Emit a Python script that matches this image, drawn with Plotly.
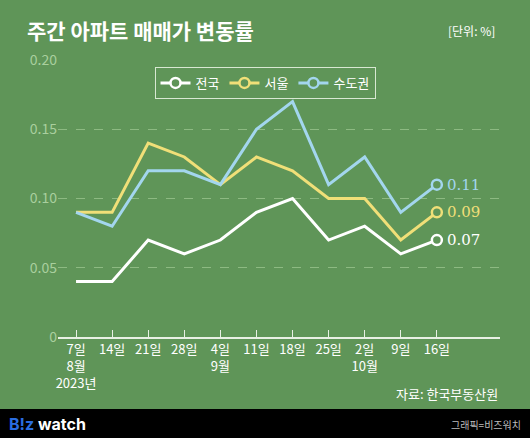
import plotly.graph_objects as go

weeks = ["7일<br>8월<br>2023년", "14일", "21일", "28일", "4일<br>9월", "11일", "18일", "25일", "2일<br>10월", "9일", "16일"]
national = [0.04, 0.04, 0.07, 0.06, 0.07, 0.09, 0.10, 0.07, 0.08, 0.06, 0.07]
seoul = [0.09, 0.09, 0.14, 0.13, 0.11, 0.13, 0.12, 0.10, 0.10, 0.07, 0.09]
capital = [0.09, 0.08, 0.12, 0.12, 0.11, 0.15, 0.17, 0.11, 0.13, 0.09, 0.11]
series_names = ["전국", "서울", "수도권"]
y_ticks = [0, 0.05, 0.10, 0.15, 0.20]
y_tick_text = ["0", "0.05", "0.10", "0.15", "0.20"]

W, H = 530, 438
L, R, T, B = 58, 30, 60, 101
PW, PH = W - L - R, H - T - B
BG = "#5f9558"
colors = ["#ffffff", "#f0df78", "#a3d6ee"]
FONT = "Noto Sans CJK KR"

def px(x):
    return (x - L) / PW

def py(y):
    return (H - B - y) / PH

xs = list(range(len(weeks)))
fig = go.Figure()
for name, vals, c in zip(series_names, [national, seoul, capital], colors):
    fig.add_trace(go.Scatter(x=xs, y=vals, mode="lines", line=dict(color=c, width=3),
                             showlegend=False, hoverinfo="skip"))
    fig.add_trace(go.Scatter(x=[xs[-1]], y=[vals[-1]], mode="markers",
                             marker=dict(symbol="circle", size=10, color=BG,
                                         line=dict(color=c, width=2.5)),
                             showlegend=False, hoverinfo="skip"))
    fig.add_trace(go.Scatter(x=[None], y=[None], mode="lines+markers", name=name,
                             line=dict(color=c, width=3),
                             marker=dict(symbol="circle", size=10, color=BG,
                                         line=dict(color=c, width=2.5))))
    fig.add_annotation(x=xs[-1], y=vals[-1], text=f"{vals[-1]:.2f}", showarrow=False,
                       xanchor="left", yanchor="middle", xshift=8,
                       font=dict(family="DejaVu Serif", size=15, color=c))

fig.update_xaxes(range=[-0.5, 11.75], tickvals=xs, ticktext=weeks, showgrid=False,
                 zeroline=False, showline=True, linecolor="#e8f0e4", linewidth=1.5,
                 ticks="inside", ticklen=7, tickcolor="#e8f0e4", tickwidth=1,
                 tickfont=dict(family=FONT, size=13, color="#ffffff"))
fig.update_yaxes(range=[0, 0.2], tickvals=y_ticks, ticktext=y_tick_text, showgrid=True,
                 gridcolor="#8dba82", griddash="dash", gridwidth=1, zeroline=False,
                 tickfont=dict(family=FONT, size=14, color="#a9cf9e"))

fig.add_annotation(xref="paper", yref="paper", x=px(25), y=py(30), text="<b>주간 아파트 매매가 변동률</b>",
                   showarrow=False, xanchor="left", yanchor="middle",
                   font=dict(family=FONT, size=21, color="#ffffff"))
fig.add_annotation(xref="paper", yref="paper", x=px(497), y=py(30), text="[단위: %]",
                   showarrow=False, xanchor="right", yanchor="middle",
                   font=dict(family=FONT, size=12, color="#ffffff"))
fig.add_annotation(xref="paper", yref="paper", x=px(500), y=py(393), text="자료: 한국부동산원",
                   showarrow=False, xanchor="right", yanchor="middle",
                   font=dict(family=FONT, size=13, color="#ffffff"))
fig.add_shape(type="rect", xref="paper", yref="paper", x0=px(0), x1=px(W), y0=py(409), y1=py(H + 2),
              fillcolor="#000000", line=dict(width=0), layer="above")
fig.add_annotation(xref="paper", yref="paper", x=px(7), y=py(424),
                   text="<b><span style='color:#2a6de0'>B!z</span> watch</b>",
                   showarrow=False, xanchor="left", yanchor="middle",
                   font=dict(family="Inter", size=16, color="#ffffff"))
fig.add_annotation(xref="paper", yref="paper", x=px(523), y=py(424), text="그래픽=비즈워치",
                   showarrow=False, xanchor="right", yanchor="middle",
                   font=dict(family=FONT, size=10, color="#bbbbbb"))

fig.update_layout(width=W, height=H, margin=dict(l=L, r=R, t=T, b=B),
                  paper_bgcolor=BG, plot_bgcolor=BG,
                  legend=dict(orientation="h", x=px(265), xanchor="center", y=py(67), yanchor="top",
                              bordercolor="#d8e8d2", borderwidth=1, bgcolor=BG,
                              font=dict(family=FONT, size=13, color="#ffffff"),
                              itemwidth=30))
fig.write_html("out.html", config={"displayModeBar": False, "staticPlot": True},
               post_script="document.body.style.margin='0';document.body.style.overflow='hidden';")
